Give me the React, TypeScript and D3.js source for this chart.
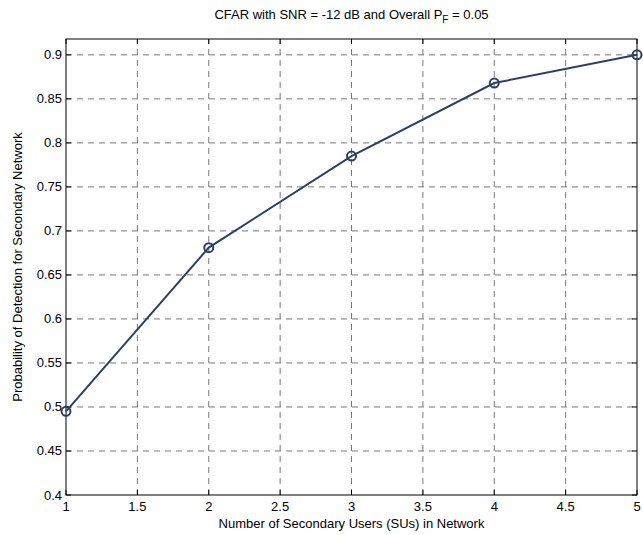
import React from "react";
import * as d3 from "d3";

const users = [1, 2, 3, 4, 5];
const detection = [0.495, 0.681, 0.785, 0.868, 0.9];
const xTicks = [1, 1.5, 2, 2.5, 3, 3.5, 4, 4.5, 5];
const yTicks = [0.4, 0.45, 0.5, 0.55, 0.6, 0.65, 0.7, 0.75, 0.8, 0.85, 0.9];

const W = 643;
const H = 535;
const m = { left: 66, right: 6, top: 39, bottom: 40 };

export default function App() {
  const x = d3.scaleLinear().domain([1, 5]).range([m.left, W - m.right]);
  const y = d3.scaleLinear().domain([0.4, 0.918]).range([H - m.bottom, m.top]);
  const line = d3
    .line<number>()
    .x((_, i) => x(users[i]))
    .y((d) => y(d));
  const x0 = x(1), x1 = x(5), y0 = y(0.4), y1 = y(0.918);
  const font = "Liberation Sans, Arial, sans-serif";
  const col = "#2c3f6b";
  return (
    <svg width={W} height={H} style={{ position: "absolute", left: 0, top: 0 }} fontFamily={font}>
      <rect x={0} y={0} width={W} height={H} fill="#fff" />
      {xTicks.slice(1, -1).map((t) => (
        <line key={"gx" + t} x1={x(t)} x2={x(t)} y1={y0} y2={y1} stroke="#777" strokeDasharray="6,5" strokeWidth={1} />
      ))}
      {yTicks.slice(1).map((t) => (
        <line key={"gy" + t} x1={x0} x2={x1} y1={y(t)} y2={y(t)} stroke="#777" strokeDasharray="6,5" strokeWidth={1} />
      ))}
      {xTicks.map((t) => (
        <g key={"tx" + t}>
          <line x1={x(t)} x2={x(t)} y1={y0} y2={y0 - 5} stroke="#000" />
          <line x1={x(t)} x2={x(t)} y1={y1} y2={y1 + 5} stroke="#000" />
          <text x={x(t)} y={y0 + 16} fontSize={13} textAnchor="middle">{String(t)}</text>
        </g>
      ))}
      {yTicks.map((t) => (
        <g key={"ty" + t}>
          <line x1={x0} x2={x0 + 5} y1={y(t)} y2={y(t)} stroke="#000" />
          <line x1={x1} x2={x1 - 5} y1={y(t)} y2={y(t)} stroke="#000" />
          <text x={x0 - 4} y={y(t) + 4.5} fontSize={13} textAnchor="end">{String(t)}</text>
        </g>
      ))}
      <rect x={x0} y={y1} width={x1 - x0} height={y0 - y1} fill="none" stroke="#000" strokeWidth={1} />
      <path d={line(detection) || ""} fill="none" stroke={col} strokeWidth={2} />
      {detection.map((d, i) => (
        <circle key={i} cx={x(users[i])} cy={y(d)} r={4.5} fill="none" stroke={col} strokeWidth={2} />
      ))}
      <text x={(x0 + x1) / 2} y={H - 7} fontSize={13} textAnchor="middle">Number of Secondary Users (SUs) in Network</text>
      <text transform={`translate(${22},${(y0 + y1) / 2}) rotate(-90)`} fontSize={13} textAnchor="middle">Probability of Detection for Secondary Network</text>
      <text x={(x0 + x1) / 2} y={19} fontSize={13} textAnchor="middle">
        CFAR with SNR = -12 dB and Overall P<tspan fontSize={10} dy={4}>F</tspan><tspan dy={-4}> = 0.05</tspan>
      </text>
    </svg>
  );
}
